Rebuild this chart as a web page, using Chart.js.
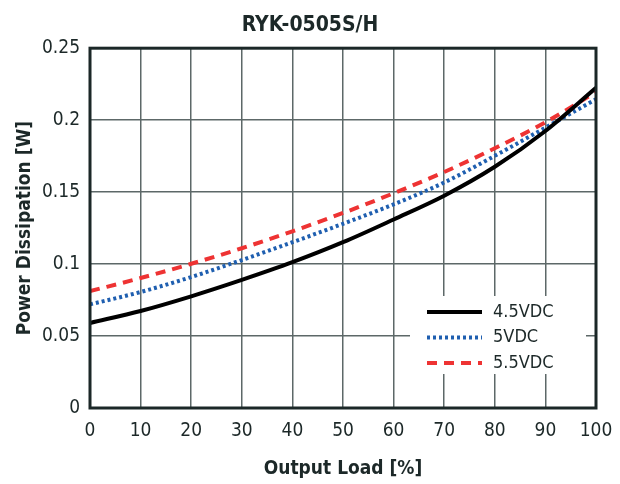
<!DOCTYPE html>
<html><head><meta charset="utf-8">
<script src="https://cdn.jsdelivr.net/npm/chart.js@4/dist/chart.umd.min.js"></script>
<style>html,body{margin:0;padding:0;background:#fff}#wrap{width:620px;height:484px}</style>
</head><body><div id="wrap"><canvas id="c"></canvas></div>
<script>
const loads = [0, 10, 20, 30, 40, 50, 60, 70, 80, 90, 100];
const v45 = [0.0591, 0.0674, 0.0776, 0.0890, 0.1013, 0.1152, 0.1310, 0.1475, 0.1676, 0.1925, 0.2225];
const v50 = [0.0720, 0.0806, 0.0910, 0.1028, 0.1152, 0.1280, 0.1415, 0.1567, 0.1752, 0.1948, 0.2145];
const v55 = [0.0812, 0.0903, 0.1002, 0.1110, 0.1228, 0.1355, 0.1492, 0.1640, 0.1805, 0.1985, 0.2195];
const seriesNames = ['4.5VDC', '5VDC', '5.5VDC'];
const xTicks = [0, 10, 20, 30, 40, 50, 60, 70, 80, 90, 100];
const yTicks = [0, 0.05, 0.1, 0.15, 0.2, 0.25];

const FONT = '"Liberation Sans Narrow", "DejaVu Sans Condensed", "Roboto Condensed", Arial, sans-serif';
const TXT = '#1c2828';

const toPts = arr => loads.map((x, i) => ({x: x, y: arr[i]}));

const legendPlugin = {
  id: 'boxLegend',
  afterDatasetsDraw(chart) {
    const ctx = chart.ctx;
    const bx = 410, by = 296, bw = 176, bh = 78;
    ctx.save();
    ctx.fillStyle = '#ffffff';
    ctx.fillRect(bx, by, bw, bh);
    chart.data.datasets.forEach((ds, i) => {
      const y = 312 + i * 25.5;
      ctx.beginPath();
      ctx.strokeStyle = ds.borderColor;
      ctx.lineWidth = ds.borderWidth;
      ctx.setLineDash(ds.borderDash || []);
      ctx.moveTo(427, y);
      ctx.lineTo(482, y);
      ctx.stroke();
      ctx.setLineDash([]);
      ctx.fillStyle = TXT;
      ctx.font = '18px ' + FONT;
      ctx.textBaseline = 'middle';
      ctx.textAlign = 'left';
      ctx.fillText(ds.label, 493, y);
    });
    ctx.restore();
  }
};

const borderPlugin = {
  id: 'frame',
  afterLayout(chart) {
    if (chart.titleBlock) { chart.titleBlock.left = 24; chart.titleBlock.right = 596; }
  },
  afterDraw(chart) {
    const a = chart.chartArea, ctx = chart.ctx;
    ctx.save();
    ctx.strokeStyle = '#1b2727';
    ctx.lineWidth = 3;
    ctx.strokeRect(a.left, a.top, a.right - a.left, a.bottom - a.top);
    ctx.restore();
  }
};

new Chart(document.getElementById('c'), {
  type: 'line',
  data: {
    datasets: [
      {label: seriesNames[0], data: toPts(v45), borderColor: '#000000', borderWidth: 4, pointRadius: 0, cubicInterpolationMode: 'monotone', fill: false},
      {label: seriesNames[1], data: toPts(v50), borderColor: '#1f5fb0', borderWidth: 4, borderDash: [3, 3], pointRadius: 0, cubicInterpolationMode: 'monotone', fill: false},
      {label: seriesNames[2], data: toPts(v55), borderColor: '#ee3333', borderWidth: 4, borderDash: [10, 7], pointRadius: 0, cubicInterpolationMode: 'monotone', fill: false}
    ]
  },
  options: {
    responsive: true,
    maintainAspectRatio: false,
    animation: false,
    layout: {padding: {left: 0, right: 24, top: 5, bottom: 0}},
    plugins: {
      legend: {display: false},
      tooltip: {enabled: false},
      title: {
        display: true, text: 'RYK-0505S/H', color: TXT,
        font: {family: FONT, size: 21, weight: 'bold'},
        padding: {top: 8, bottom: 10}
      }
    },
    scales: {
      x: {
        type: 'linear', min: 0, max: 100,
        afterBuildTicks: s => { s.ticks = xTicks.map(v => ({value: v})); },
        afterFit: s => { s.height = 76; s.paddingLeft = 0; s.paddingRight = 0; },
        grid: {color: '#5d6868', lineWidth: 1.5, drawTicks: false},
        border: {display: false},
        ticks: {color: TXT, font: {family: FONT, size: 19}, padding: 12, maxRotation: 0},
        title: {display: true, text: 'Output Load [%]', color: TXT, font: {family: FONT, size: 19, weight: 'bold'}, padding: {top: 0, bottom: 4}}
      },
      y: {
        type: 'linear', min: 0, max: 0.25,
        afterBuildTicks: s => { s.ticks = yTicks.map(v => ({value: v})); },
        afterFit: s => { s.width = 90; },
        grid: {color: '#5d6868', lineWidth: 1.5, drawTicks: false},
        border: {display: false},
        ticks: {color: TXT, font: {family: FONT, size: 19}, padding: 10, callback: v => String(v)},
        title: {display: true, text: 'Power Dissipation [W]', color: TXT, font: {family: FONT, size: 19, weight: 'bold'}, padding: {top: 14, bottom: 0}}
      }
    }
  },
  plugins: [legendPlugin, borderPlugin]
});
</script></body></html>
